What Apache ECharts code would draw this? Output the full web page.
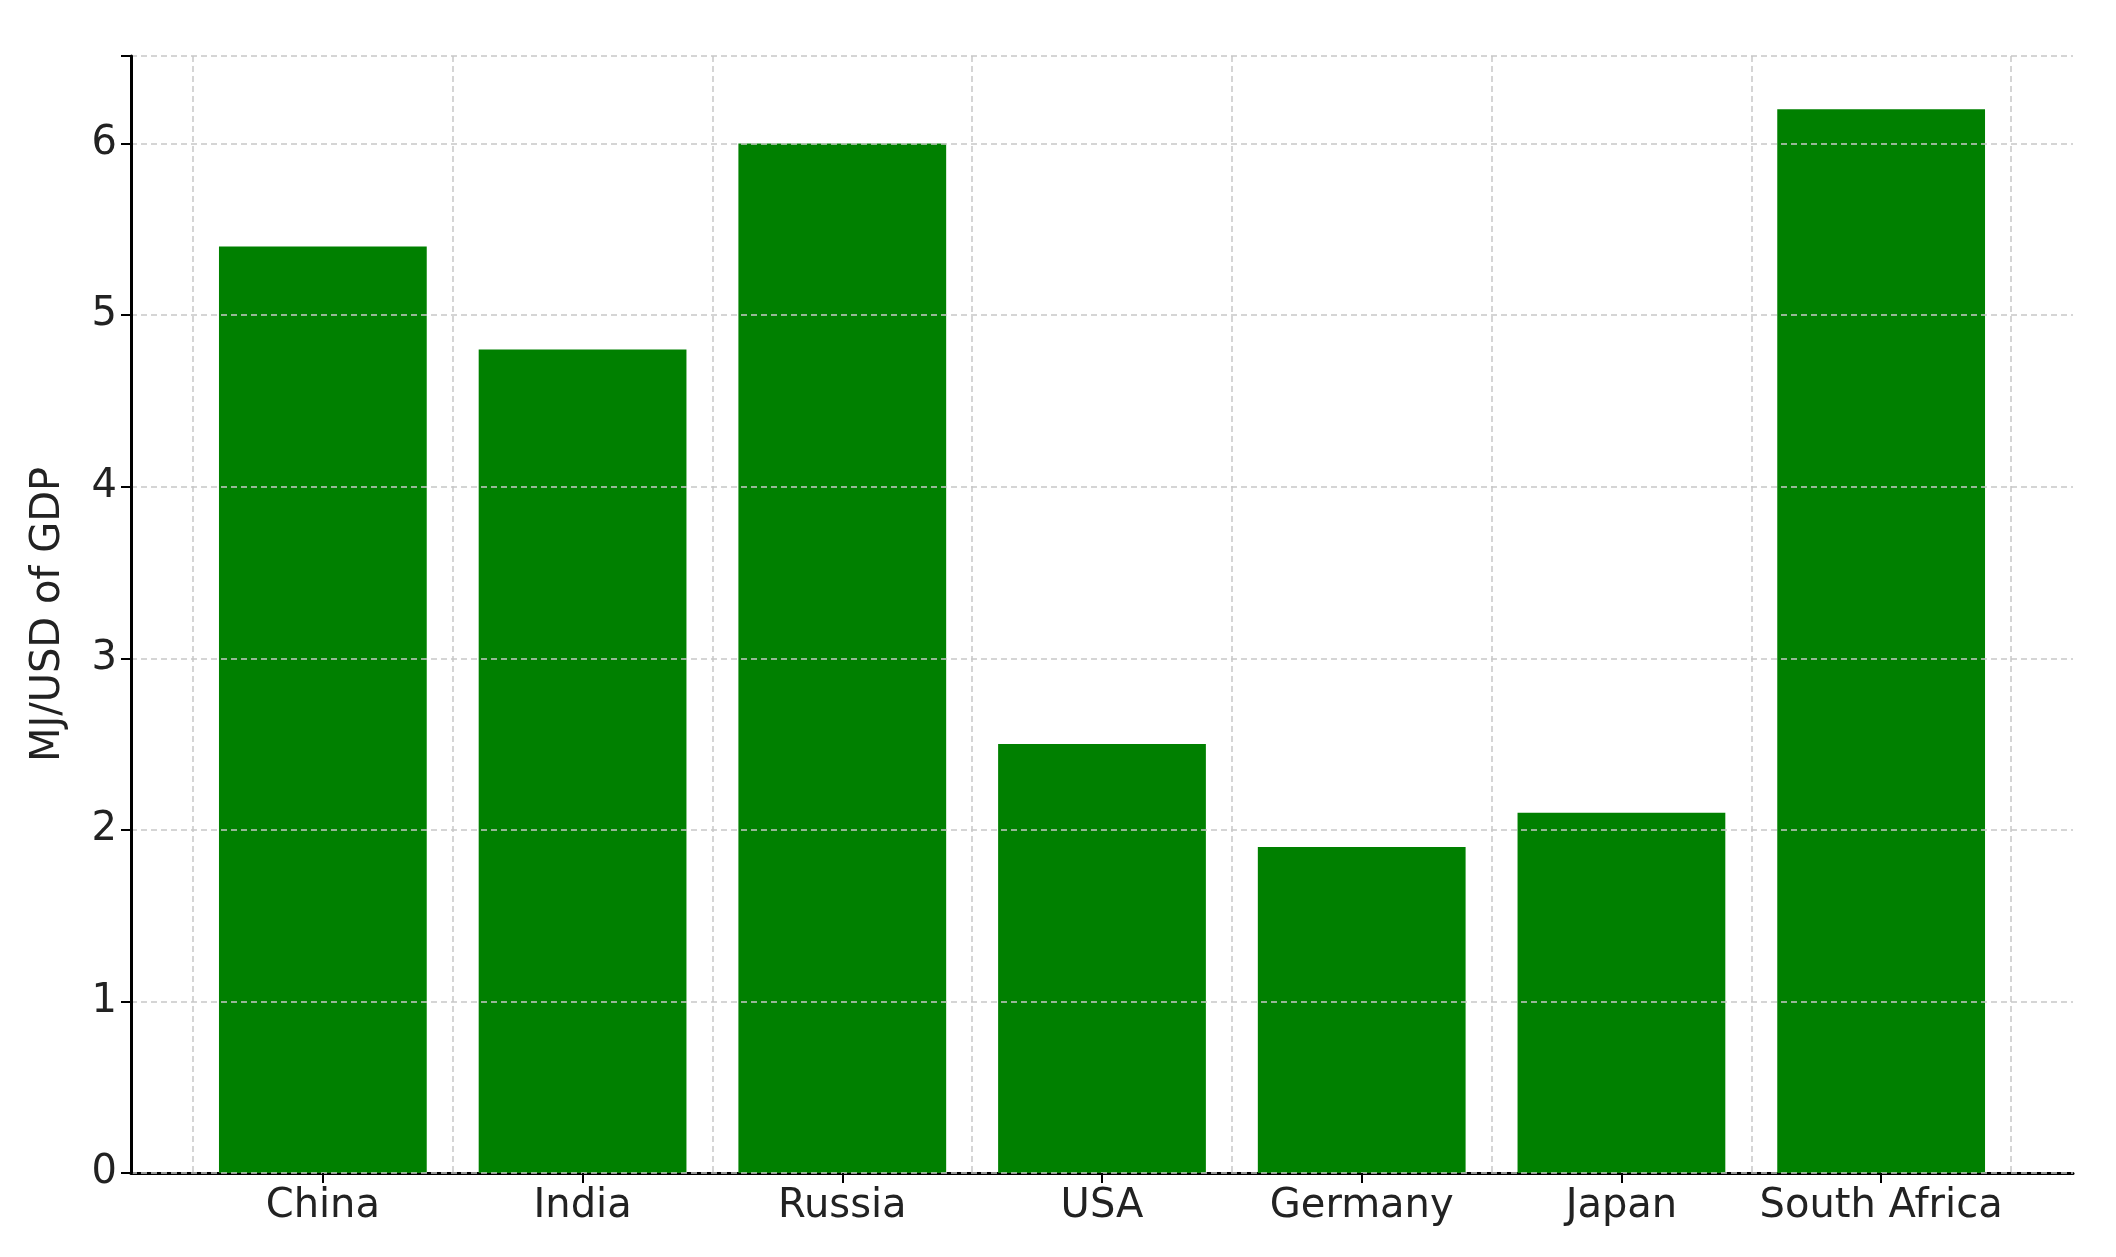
<!DOCTYPE html>
<html>
<head>
<meta charset="utf-8">
<script src="https://cdn.jsdelivr.net/npm/echarts@6/dist/echarts.min.js"></script>
<style>html,body{margin:0;background:#fff}#chart{width:2116px;height:1257px}</style>
</head>
<body>
<div id="chart"></div>
<script>
var countries = ['China', 'India', 'Russia', 'USA', 'Germany', 'Japan', 'South Africa'];
var intensity = [5.4, 4.8, 6.0, 2.5, 1.9, 2.1, 6.2];
var yTicks = [0, 1, 2, 3, 4, 5, 6];

var font = 'DejaVu Sans';
var gridLine = { show: true, lineStyle: { color: '#c8c8c8', type: [6, 4], width: 1.5 } };

var chart = echarts.init(document.getElementById('chart'));
chart.setOption({
    animation: false,
    grid: [
        { left: 131, right: 43, top: 56, bottom: 84 },  // outer frame: y axis, x axis line
        { left: 193, right: 105, top: 56, bottom: 84 }  // bars area
    ],
    xAxis: [{
        gridIndex: 0, type: 'value', min: 0, max: 1,
        axisLine: { show: true, lineStyle: { color: '#000', width: 3 } },
        axisTick: { show: false }, axisLabel: { show: false }, splitLine: { show: false }
    }, {
        gridIndex: 1, type: 'category', data: countries, z: 5,
        axisLine: { show: false },
        axisTick: { show: true, alignWithLabel: true, length: 10, lineStyle: { color: '#000', width: 2 } },
        axisLabel: { fontFamily: font, fontSize: 40, color: '#222', margin: 14, interval: 0 },
        splitLine: gridLine
    }],
    yAxis: [{
        gridIndex: 0, type: 'value', min: 0, max: 6.51, interval: 1,
        name: 'MJ/USD of GDP', nameLocation: 'middle', nameGap: 62,
        nameTextStyle: { fontFamily: font, fontSize: 40, color: '#222' },
        axisLine: { show: true, lineStyle: { color: '#000', width: 3 } },
        axisTick: { show: true, length: 10, lineStyle: { color: '#000', width: 2 } },
        axisLabel: {
            fontFamily: font, fontSize: 40, color: '#222', margin: 14,
            formatter: function(v) { return yTicks.indexOf(v) >= 0 ? String(v) : ''; }
        },
        splitLine: gridLine, z: 5
    }, {
        gridIndex: 1, type: 'value', min: 0, max: 6.51, interval: 1, show: false
    }],
    series: [{
        type: 'bar', xAxisIndex: 1, yAxisIndex: 1, z: 2,
        barWidth: '80%',
        itemStyle: { color: '#008000' },
        data: intensity
    }]
});
</script>
</body>
</html>
